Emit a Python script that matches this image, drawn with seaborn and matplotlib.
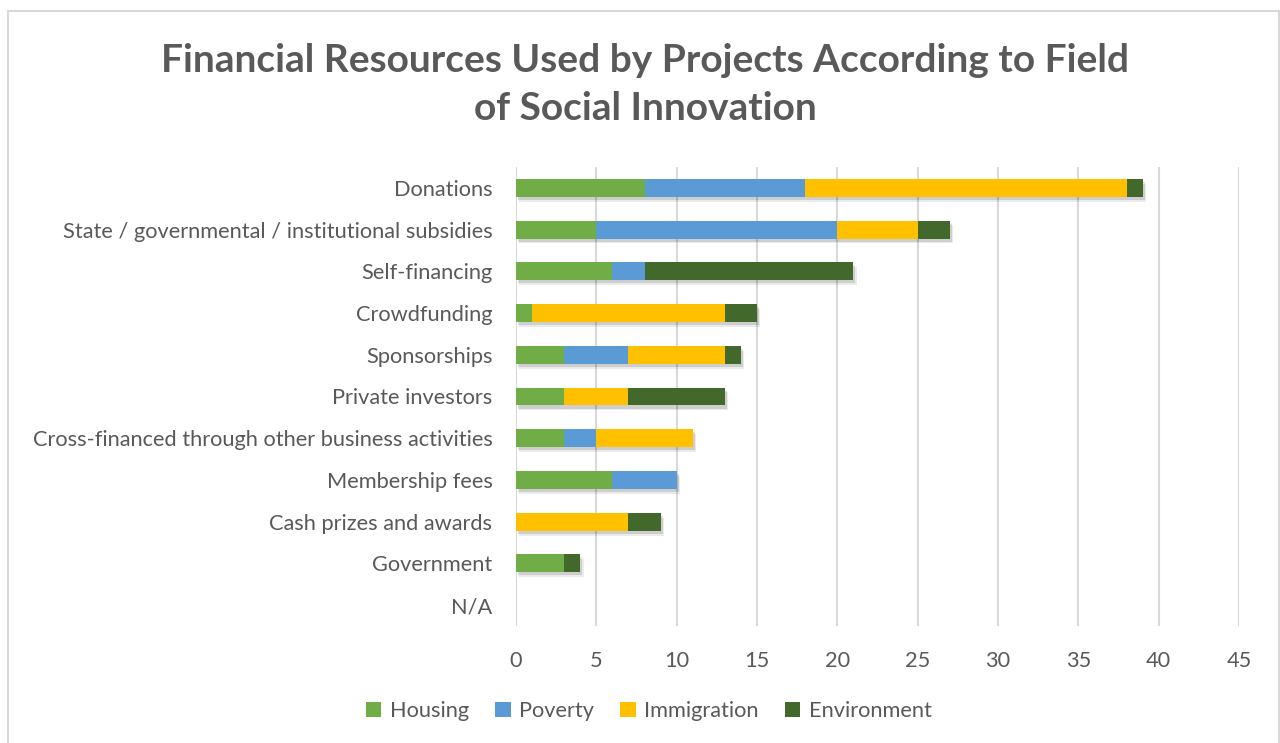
import numpy as np
import pandas as pd
import seaborn as sns
import matplotlib
matplotlib.use("Agg")
import matplotlib.pyplot as plt
from matplotlib.patches import Patch, Rectangle
import matplotlib.patheffects as pe

# Funding sources (top to bottom) and project counts per field of social innovation
categories = [
    "Donations",
    "State / governmental / institutional subsidies",
    "Self-financing",
    "Crowdfunding",
    "Sponsorships",
    "Private investors",
    "Cross-financed through other business activities",
    "Membership fees",
    "Cash prizes and awards",
    "Government",
    "N/A",
]
housing     = [8, 5, 6, 1, 3, 3, 3, 6, 0, 3, 0]
poverty     = [10, 15, 2, 0, 4, 0, 2, 4, 0, 0, 0]
immigration = [20, 5, 0, 12, 6, 4, 6, 0, 7, 0, 0]
environment = [1, 2, 13, 2, 1, 6, 0, 0, 2, 1, 0]

series_names = ["Housing", "Poverty", "Immigration", "Environment"]
series_colors = ["#70AD47", "#5B9BD5", "#FFC000", "#43682B"]
x_ticks = [0, 5, 10, 15, 20, 25, 30, 35, 40, 45]

title = "Financial Resources Used by Projects According to Field\nof Social Innovation"

sns.set_theme(style="white")
plt.rcParams["font.family"] = ["Lato", "DejaVu Sans"]
text_color = "#595959"
label_size = 15.7

fig = plt.figure(figsize=(12.8, 7.43), dpi=100)
ax = fig.add_axes([516 / 1280, 1 - 626 / 743, 723 / 1280, 459 / 743])

df = pd.DataFrame({"category": categories, "Housing": housing, "Poverty": poverty,
                   "Immigration": immigration, "Environment": environment})
cum = df[series_names].cumsum(axis=1)

# Stacked bars: draw cumulative totals from the outermost segment inwards
for name, color in reversed(list(zip(series_names, series_colors))):
    sns.barplot(data=cum, x=name, y=df["category"], color=color, orient="h",
                width=0.43, ax=ax, saturation=1, linewidth=0, edgecolor="none", zorder=3)

# soft drop shadow under each full bar
outer = ax.patches[:len(categories)]
for p in outer:
    p.set_path_effects([
        pe.SimplePatchShadow(offset=(2.5, -3.5), shadow_rgbFace="black", alpha=0.08),
        pe.SimplePatchShadow(offset=(1.5, -2.2), shadow_rgbFace="black", alpha=0.12),
        pe.Normal()])

ax.set_xlim(0, 45)
ax.set_ylim(len(categories) - 0.5, -0.5)
ax.set_xticks(x_ticks)
ax.set_xlabel("")
ax.set_ylabel("")
ax.xaxis.grid(True, color="#D9D9D9", linewidth=1.5, zorder=0)
ax.yaxis.grid(False)
ax.set_axisbelow(True)
for s in ax.spines.values():
    s.set_visible(False)
ax.tick_params(axis="x", length=0, pad=18, labelsize=label_size, labelcolor=text_color)
ax.tick_params(axis="y", length=0, pad=17, labelsize=label_size, labelcolor=text_color)

fig.suptitle(title, x=0.504, y=0.942, fontsize=28, fontweight="bold", color=text_color,
             linespacing=1.45, va="top")

handles = [Patch(facecolor=c, edgecolor="none", label=n) for n, c in zip(series_names, series_colors)]
fig.legend(handles=handles, loc="center", bbox_to_anchor=(649 / 1280, 1 - 711 / 743), ncol=4,
           frameon=False, fontsize=label_size, labelcolor=text_color, handlelength=0.7,
           handleheight=0.7, handletextpad=0.4, columnspacing=1.2)

# chart area border
fig.patches.append(Rectangle((8 / 1280, -0.01), 1271 / 1280, 1.01 - 11 / 743,
                             transform=fig.transFigure, fill=False, edgecolor="#D9D9D9",
                             linewidth=1.5))

fig.savefig("out.png", dpi=100)
